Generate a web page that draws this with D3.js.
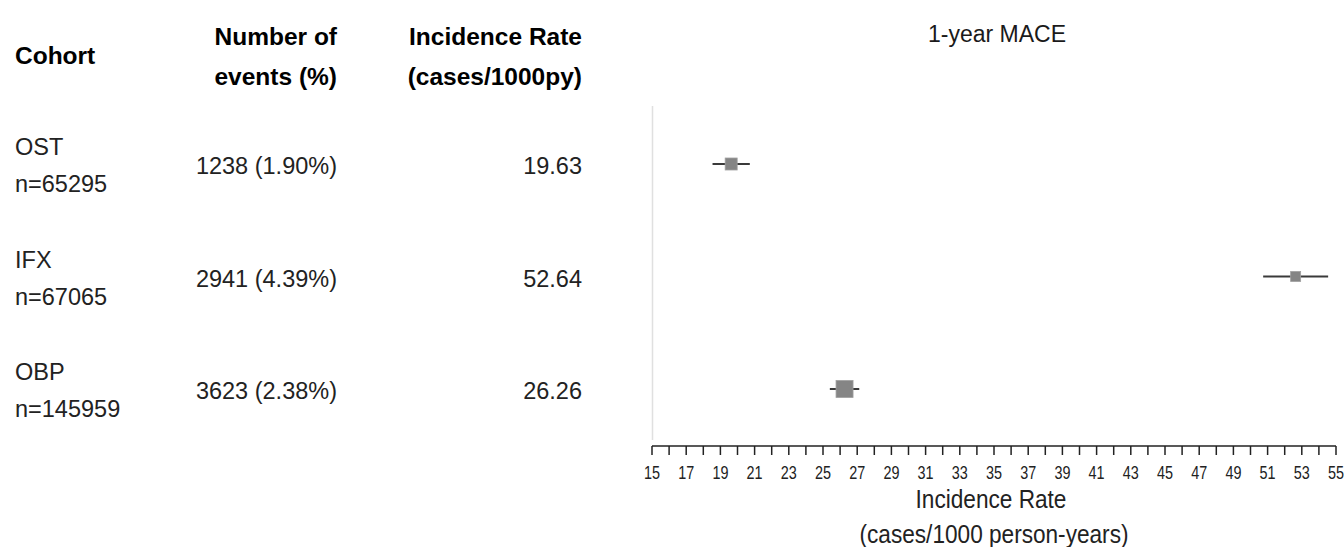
<!DOCTYPE html>
<html>
<head>
<meta charset="utf-8">
<script src="https://cdn.jsdelivr.net/npm/d3@7"></script>
<style>
  body { margin: 0; background: #fff; }
  svg text { font-family: "Liberation Sans", Arial, sans-serif; }
</style>
</head>
<body>
<div id="c_plot"></div>
<script>
// data
var cohorts = ["OST", "IFX", "OBP"];
var sizes = ["n=65295", "n=67065", "n=145959"];
var events = ["1238 (1.90%)", "2941 (4.39%)", "3623 (2.38%)"];
var rates = [19.63, 52.64, 26.26];
var lower = [18.54, 50.74, 25.40];
var upper = [20.72, 54.54, 27.12];
var weights = [12, 10, 17];   // box side, px
var xTicks = d3.range(15, 56, 1);
var xLabels = d3.range(15, 56, 2);

var width = 1344, height = 547;
var svg = d3.select("#c_plot").append("svg")
  .attr("width", width).attr("height", height);

var x = d3.scaleLinear().domain([15, 55]).range([652, 1336]);
var y = d3.scalePoint().domain(cohorts).range([164, 389]);

// condensed text (the source uses a narrow face)
function narrow(sel, tx, ty, sx){
  return sel.attr("transform", "translate(" + tx + "," + ty + ") scale(" + sx + ",1)");
}

// headers
var hs = 24.5;
svg.append("text").attr("x", 15).attr("y", 64).attr("font-size", hs)
  .attr("font-weight", "bold").text("Cohort");
svg.append("text").attr("x", 337).attr("y", 45).attr("font-size", hs)
  .attr("font-weight", "bold").attr("text-anchor", "end").text("Number of");
svg.append("text").attr("x", 337).attr("y", 85).attr("font-size", hs)
  .attr("font-weight", "bold").attr("text-anchor", "end").text("events (%)");
svg.append("text").attr("x", 582).attr("y", 45).attr("font-size", hs)
  .attr("font-weight", "bold").attr("text-anchor", "end").text("Incidence Rate");
svg.append("text").attr("x", 582).attr("y", 85).attr("font-size", hs)
  .attr("font-weight", "bold").attr("text-anchor", "end").text("(cases/1000py)");
svg.append("text").attr("x", 997).attr("y", 42).attr("font-size", 23)
  .attr("text-anchor", "middle").attr("fill", "#1a1a1a").text("1-year MACE");

// table rows
var rs = 23.5;
cohorts.forEach(function(c, i){
  var yy = y(c);
  svg.append("text").attr("x", 15).attr("y", yy - 9).attr("font-size", rs)
    .attr("fill", "#222").text(c);
  svg.append("text").attr("x", 15).attr("y", yy + 28).attr("font-size", rs)
    .attr("fill", "#222").text(sizes[i]);
  svg.append("text").attr("x", 337).attr("y", yy + 10).attr("font-size", rs)
    .attr("fill", "#222").attr("text-anchor", "end").text(events[i]);
  svg.append("text").attr("x", 582).attr("y", yy + 10).attr("font-size", rs)
    .attr("fill", "#222").attr("text-anchor", "end").text(rates[i].toFixed(2));
});

// reference line on the left
svg.append("line").attr("x1", 652.5).attr("x2", 652.5)
  .attr("y1", 106).attr("y2", 440)
  .attr("stroke", "#e0e0e0").attr("stroke-width", 1.5);

// intervals and boxes
cohorts.forEach(function(c, i){
  var yy = y(c);
  svg.append("line").attr("x1", x(lower[i])).attr("x2", x(upper[i]))
    .attr("y1", yy).attr("y2", yy)
    .attr("stroke", "#3a3a3a").attr("stroke-width", 2);
  var s = weights[i];
  svg.append("rect").attr("x", x(rates[i]) - s / 2).attr("y", yy - s / 2)
    .attr("width", s).attr("height", s)
    .attr("fill", "#858585").attr("stroke", "#a0a0a0").attr("stroke-width", 0.8);
});

// x axis
var axisY = 446;
var axis = svg.append("g").attr("transform", "translate(0," + axisY + ")");
axis.append("line").attr("x1", x(15)).attr("x2", x(55))
  .attr("stroke", "#222").attr("stroke-width", 1.5);
axis.selectAll(".tk").data(xTicks).enter().append("line")
  .attr("x1", d => x(d)).attr("x2", d => x(d))
  .attr("y1", 0).attr("y2", 9)
  .attr("stroke", "#222").attr("stroke-width", 1.5);
axis.selectAll(".lb").data(xLabels).enter().append("text")
  .each(function(d){ narrow(d3.select(this), x(d), 33, 0.8); })
  .attr("text-anchor", "middle").attr("font-size", 18)
  .attr("fill", "#222").text(d => d);

narrow(svg.append("text"), 991, 508, 0.87).attr("font-size", 26)
  .attr("text-anchor", "middle").attr("fill", "#222")
  .text("Incidence Rate");
narrow(svg.append("text"), 994, 543, 0.87).attr("font-size", 26)
  .attr("text-anchor", "middle").attr("fill", "#222")
  .text("(cases/1000 person-years)");
</script>
</body>
</html>
